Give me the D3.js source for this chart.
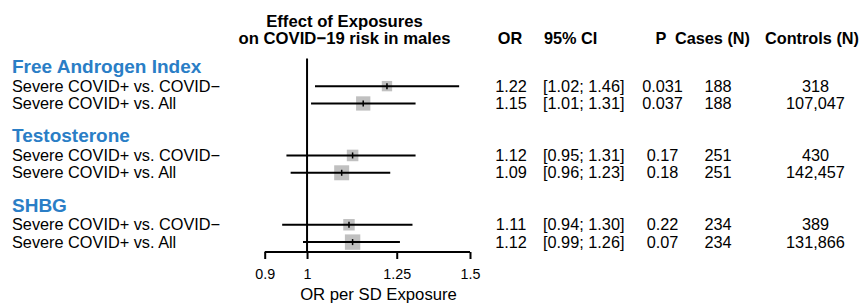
<!DOCTYPE html>
<html>
<head>
<meta charset="utf-8">
<script src="https://cdn.jsdelivr.net/npm/d3@7"></script>
<style>
  body { margin: 0; background: #fff; }
  text { font-family: "Liberation Sans", Arial, Helvetica, sans-serif; }
</style>
</head>
<body>
<div id="forest"></div>
<script>
// data
var groups = ["Free Androgen Index", "Testosterone", "SHBG"];
var comparisons = ["Severe COVID+ vs. COVID\u2212", "Severe COVID+ vs. All"];
var orValues = [1.22, 1.15, 1.12, 1.09, 1.11, 1.12];
var lowerCI = [1.02, 1.01, 0.95, 0.96, 0.94, 0.99];
var upperCI = [1.46, 1.31, 1.31, 1.23, 1.30, 1.26];
var pValues = ["0.031", "0.037", "0.17", "0.18", "0.22", "0.07"];
var cases = [188, 188, 251, 251, 234, 234];
var controls = [318, 107047, 430, 142457, 389, 131866];
var tickValues = [0.9, 1, 1.25, 1.5];
var columnHeaders = ["OR", "95% CI", "P", "Cases (N)", "Controls (N)"];

var width = 868, height = 303;

var svg = d3.select("#forest")
  .append("svg")
  .attr("width", width)
  .attr("height", height);

// log scale for odds ratios
var x = d3.scaleLog()
  .domain([0.9, 1.5])
  .range([264.7, 470]);

// row layout: header, row, row, blank ...
var y = d3.scaleLinear()
  .domain([0, 10])
  .range([68.8, 242.1]);

var rows = orValues.map(function (d, i) {
  var g = Math.floor(i / 2);
  var se = (Math.log(upperCI[i]) - Math.log(lowerCI[i])) / (2 * 1.96);
  return {
    label: comparisons[i % 2],
    or: d, lo: lowerCI[i], hi: upperCI[i],
    p: pValues[i], cases: cases[i], controls: controls[i],
    w: 1 / se,
    idx: g * 4 + 1 + (i % 2)
  };
});

var box = d3.scaleLinear()
  .domain([0, d3.max(rows, function (d) { return d.w; })])
  .range([0, 15.4]);

// title
var title = svg.append("text")
  .attr("text-anchor", "middle")
  .style("font-weight", "bold")
  .style("font-size", "16.7px");
title.append("tspan").attr("x", 344.5).attr("y", 26.7).text("Effect of Exposures");
title.append("tspan").attr("x", 344.5).attr("y", 44.2).text("on COVID\u221219 risk in males");

// column headers
var headerPos = [
  { x: 510, anchor: "middle" },
  { x: 544, anchor: "start" },
  { x: 661, anchor: "middle" },
  { x: 712.5, anchor: "middle" },
  { x: 812, anchor: "middle" }
];
svg.selectAll(".colhead")
  .data(columnHeaders)
  .enter()
  .append("text")
  .attr("class", "colhead")
  .attr("x", function (d, i) { return headerPos[i].x; })
  .attr("y", 44.2)
  .attr("text-anchor", function (d, i) { return headerPos[i].anchor; })
  .style("font-weight", "bold")
  .style("font-size", "16.3px")
  .text(function (d) { return d; });

// group headings
svg.selectAll(".group")
  .data(groups)
  .enter()
  .append("text")
  .attr("class", "group")
  .attr("x", 12)
  .attr("y", function (d, i) { return y(i * 4) + 4.2; })
  .style("font-weight", "bold")
  .style("font-size", "19px")
  .style("fill", "#2a7ec6")
  .text(function (d) { return d; });

// row labels
svg.selectAll(".rowlabel")
  .data(rows)
  .enter()
  .append("text")
  .attr("class", "rowlabel")
  .attr("x", 12)
  .attr("y", function (d) { return y(d.idx) + 5.7; })
  .style("font-size", "16.3px")
  .text(function (d) { return d.label; });

// reference line at OR = 1
svg.append("line")
  .attr("x1", x(1)).attr("x2", x(1))
  .attr("y1", 58.5).attr("y2", 252)
  .attr("stroke", "black")
  .attr("stroke-width", 2);

// boxes
svg.selectAll(".box")
  .data(rows)
  .enter()
  .append("rect")
  .attr("class", "box")
  .attr("x", function (d) { return x(d.or) - box(d.w) / 2; })
  .attr("y", function (d) { return y(d.idx) - box(d.w) / 2; })
  .attr("width", function (d) { return box(d.w); })
  .attr("height", function (d) { return box(d.w); })
  .style("fill", "#c0c0c0");

// confidence intervals
svg.selectAll(".ci")
  .data(rows)
  .enter()
  .append("line")
  .attr("class", "ci")
  .attr("x1", function (d) { return x(d.lo); })
  .attr("x2", function (d) { return x(d.hi); })
  .attr("y1", function (d) { return y(d.idx); })
  .attr("y2", function (d) { return y(d.idx); })
  .attr("stroke", "black")
  .attr("stroke-width", 2);

// point estimate marks
svg.selectAll(".pt")
  .data(rows)
  .enter()
  .append("line")
  .attr("class", "pt")
  .attr("x1", function (d) { return x(d.or); })
  .attr("x2", function (d) { return x(d.or); })
  .attr("y1", function (d) { return y(d.idx) - 3; })
  .attr("y2", function (d) { return y(d.idx) + 3; })
  .attr("stroke", "black")
  .attr("stroke-width", 1.5);

// x axis
var axis = svg.append("g")
  .attr("transform", "translate(0,252)")
  .call(d3.axisBottom(x)
    .tickValues(tickValues)
    .tickFormat(function (d) { return String(d); })
    .tickSize(7)
    .tickSizeOuter(0)
    .tickPadding(10));
axis.select(".domain").attr("stroke-width", 2).attr("d", "M" + x(0.9) + ",0H" + x(1.5));
axis.selectAll(".tick line").attr("stroke-width", 2);
axis.selectAll(".tick text")
  .style("font-size", "14.3px")
  .style("font-family", '"Liberation Sans", Arial, sans-serif');

svg.append("text")
  .attr("x", 378.5)
  .attr("y", 300)
  .attr("text-anchor", "middle")
  .style("font-size", "16.7px")
  .text("OR per SD Exposure");

// table columns
var fmt = d3.format(".2f");
var comma = d3.format(",");
var cols = [
  { x: 511, anchor: "middle", f: function (d) { return fmt(d.or); } },
  { x: 543, anchor: "start", f: function (d) { return "[" + fmt(d.lo) + "; " + fmt(d.hi) + "]"; } },
  { x: 662.5, anchor: "middle", f: function (d) { return d.p; } },
  { x: 718, anchor: "middle", f: function (d) { return d.cases; } },
  { x: 815.5, anchor: "middle", f: function (d) { return comma(d.controls); } }
];
cols.forEach(function (c) {
  svg.selectAll(null)
    .data(rows)
    .enter()
    .append("text")
    .attr("x", c.x)
    .attr("y", function (d) { return y(d.idx) + 5.7; })
    .attr("text-anchor", c.anchor)
    .style("font-size", "16.3px")
    .text(c.f);
});
</script>
</body>
</html>
